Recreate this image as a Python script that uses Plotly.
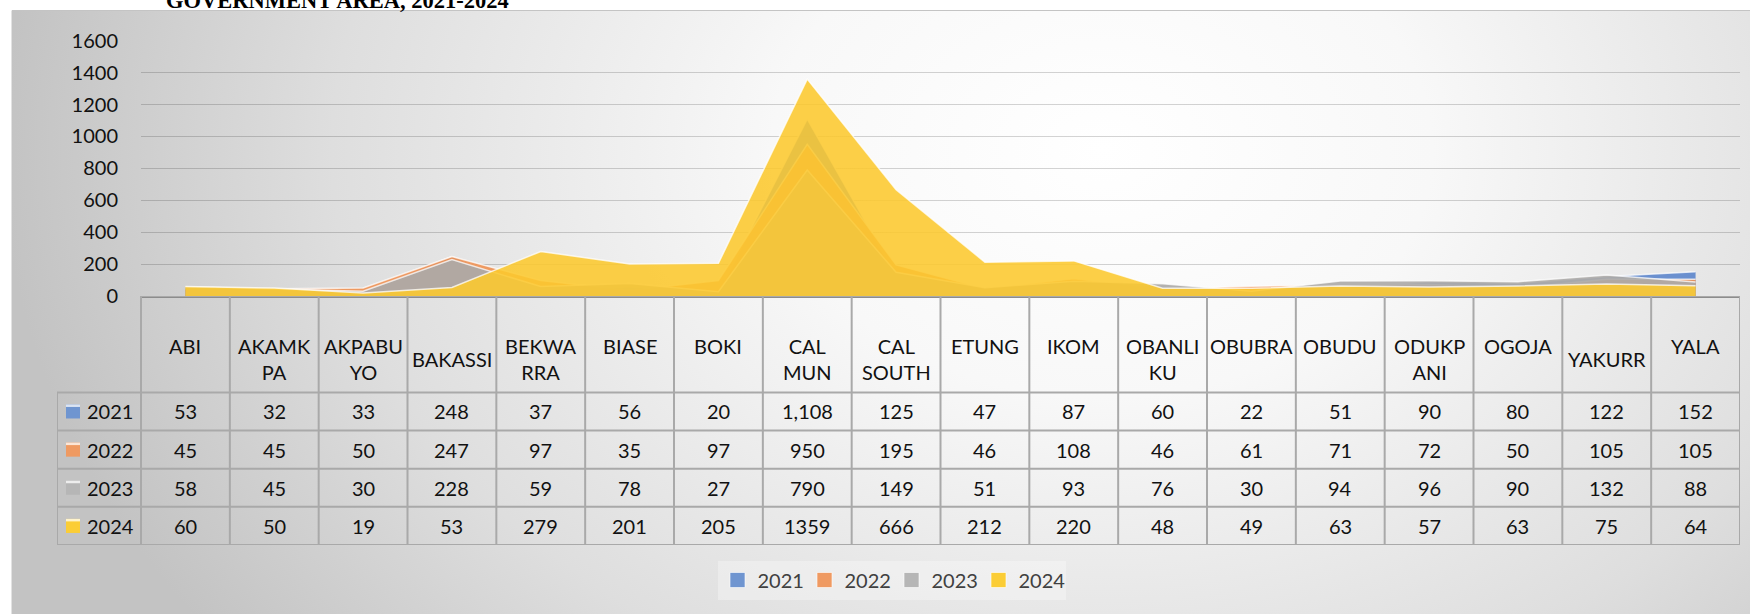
import base64
import plotly.graph_objects as go

# ---------------- data ----------------
categories = ["ABI", "AKAMKPA", "AKPABUYO", "BAKASSI", "BEKWARRA", "BIASE", "BOKI",
              "CAL MUN", "CAL SOUTH", "ETUNG", "IKOM", "OBANLIKU", "OBUBRA", "OBUDU",
              "ODUKPANI", "OGOJA", "YAKURR", "YALA"]
# header labels as wrapped in the data table (trailing blank line kept as in the source)
header_labels = ["ABI<br>\u00a0", "AKAMK<br>PA", "AKPABU<br>YO", "BAKASSI",
                 "BEKWA<br>RRA", "BIASE<br>\u00a0", "BOKI<br>\u00a0", "CAL<br>MUN",
                 "CAL<br>SOUTH", "ETUNG<br>\u00a0", "IKOM<br>\u00a0", "OBANLI<br>KU",
                 "OBUBRA<br>\u00a0", "OBUDU<br>\u00a0", "ODUKP<br>ANI", "OGOJA<br>\u00a0",
                 "YAKURR", "YALA<br>\u00a0"]
years = ["2021", "2022", "2023", "2024"]
v2021 = [53, 32, 33, 248, 37, 56, 20, 1108, 125, 47, 87, 60, 22, 51, 90, 80, 122, 152]
v2022 = [45, 45, 50, 247, 97, 35, 97, 950, 195, 46, 108, 46, 61, 71, 72, 50, 105, 105]
v2023 = [58, 45, 30, 228, 59, 78, 27, 790, 149, 51, 93, 76, 30, 94, 96, 90, 132, 88]
v2024 = [60, 50, 19, 53, 279, 201, 205, 1359, 666, 212, 220, 48, 49, 63, 57, 63, 75, 64]
series = [v2021, v2022, v2023, v2024]
y_ticks = [0, 200, 400, 600, 800, 1000, 1200, 1400, 1600]
title_text = "GOVERNMENT AREA, 2021-2024"

# ---------------- style ----------------
fill_colors = ["rgba(96,136,204,0.92)", "rgba(238,146,86,0.92)",
               "rgba(172,170,168,0.92)", "rgba(252,200,46,0.88)"]
key_colors = ["#6f95d0", "#ef9a62", "#b6b6b6", "#fbcd35"]
FONT = "Lato, 'Open Sans', sans-serif"
TXT = "#111111"
LINE = "#a9a9a9"
W, H = 1750, 614

def px_x(p):
    return p / W

def px_y(p):
    return (H - p) / H

# table geometry (in table-axis units: one category column = 1, one body row = 1)
COL_PX, ROW_PX = 88.83, 38.0
HEADER_ROWS = 96 / ROW_PX
LABEL_COL = 84 / COL_PX
n = len(categories)
tab_x0 = -0.5 - LABEL_COL

# background gradient for the chart frame
svg = """<svg xmlns='http://www.w3.org/2000/svg' width='1738' height='604' viewBox='0 0 1738 604' preserveAspectRatio='none'>
<defs><radialGradient id='g' gradientUnits='userSpaceOnUse' cx='1090' cy='140' r='1100' gradientTransform='translate(1090 140) scale(1 0.75) translate(-1090 -140)'>
<stop offset='0' stop-color='#ffffff'/><stop offset='0.3' stop-color='#f8f8f8'/>
<stop offset='0.7' stop-color='#dedede'/><stop offset='1' stop-color='#c3c3c3'/></radialGradient></defs>
<rect x='0' y='0' width='1738' height='604' fill='url(#g)'/></svg>"""
bg_uri = "data:image/svg+xml;base64," + base64.b64encode(svg.encode()).decode()

fig = go.Figure()

# overlapping area series
for yr, vals, fc in zip(years, series, fill_colors):
    fig.add_trace(go.Scatter(
        x=categories, y=vals, name=yr, mode="lines",
        fill="tozeroy", fillcolor=fc,
        line=dict(color="rgba(255,255,255,0.75)", width=1.5),
        xaxis="x", yaxis="y", showlegend=False, hoverinfo="x+y+name",
    ))

# legend keys (square swatches)
for yr, kc in zip(years, key_colors):
    fig.add_trace(go.Scatter(
        x=[None], y=[None], name=yr, mode="markers",
        marker=dict(symbol="square", size=15, color=kc,
                    line=dict(color="rgba(255,255,255,0.6)", width=1)),
        xaxis="x", yaxis="y", showlegend=True,
    ))

# ---------------- data table (shapes + text on table axes) ----------------
shapes = []
ann = []
tab = dict(xref="x3", yref="y3")
shapes.append(dict(type="line", x0=-0.5, x1=n - 0.5, y0=-HEADER_ROWS, y1=-HEADER_ROWS,
                   line=dict(color=LINE, width=2), **tab))
for r in range(len(years) + 1):
    shapes.append(dict(type="line", x0=tab_x0, x1=n - 0.5, y0=r, y1=r,
                       line=dict(color=LINE, width=2), **tab))
shapes.append(dict(type="line", x0=tab_x0, x1=tab_x0, y0=0, y1=len(years),
                   line=dict(color=LINE, width=2), **tab))
for k in range(n + 1):
    shapes.append(dict(type="line", x0=k - 0.5, x1=k - 0.5, y0=-HEADER_ROWS, y1=len(years),
                       line=dict(color=LINE, width=2), **tab))

tfont = dict(family=FONT, size=20, color=TXT)
for i, lab in enumerate(header_labels):
    ann.append(dict(text=lab, x=i, y=-0.87, xanchor="center", yanchor="middle",
                    showarrow=False, font=tfont, **tab))
key_x0 = tab_x0 + 9 / COL_PX
key_x1 = tab_x0 + 23 / COL_PX
half_key = 7 / ROW_PX
for r, (yr, vals, kc) in enumerate(zip(years, series, key_colors)):
    yc = r + 0.5
    # legend key swatch in the row header
    shapes.append(dict(type="rect", x0=key_x0, x1=key_x1, y0=yc - half_key, y1=yc + half_key,
                       fillcolor=kc, line=dict(width=0), **tab))
    shapes.append(dict(type="rect", x0=key_x0, x1=key_x1, y0=yc - half_key,
                       y1=yc - half_key + 2.5 / ROW_PX,
                       fillcolor="rgba(255,255,255,0.75)", line=dict(width=0), **tab))
    ann.append(dict(text=yr, x=tab_x0 + 28 / COL_PX, y=yc, xanchor="left", yanchor="middle",
                    showarrow=False, font=tfont, **tab))
    for i, v in enumerate(vals):
        txt = str(v) if yr == "2024" else f"{v:,}"
        ann.append(dict(text=txt, x=i, y=yc, xanchor="center", yanchor="middle",
                        showarrow=False, font=tfont, **tab))

# title (partly cut off at the top, as in the source)
ann.append(dict(text=f"<b>{title_text}</b>", xref="paper", yref="paper",
                x=px_x(164), y=1.0, xanchor="left", yanchor="middle", showarrow=False,
                font=dict(family="'Liberation Serif', 'Times New Roman', serif",
                          size=22.5, color="#000000")))

# chart frame outline
shapes.append(dict(type="rect", xref="paper", yref="paper",
                   x0=px_x(12), x1=1.01, y0=-0.01, y1=px_y(10.5),
                   line=dict(color="#c4c4c4", width=1), fillcolor="rgba(0,0,0,0)",
                   layer="below"))

fig.update_layout(
    width=W, height=H,
    margin=dict(l=0, r=0, t=0, b=0, autoexpand=False),
    paper_bgcolor="white",
    plot_bgcolor="rgba(0,0,0,0)",
    font=dict(family=FONT, size=20, color=TXT),
    xaxis=dict(domain=[px_x(141), px_x(1740)], type="category",
               range=[-0.5, n - 0.5],
               showgrid=False, showticklabels=False, zeroline=False,
               showline=True, linecolor="#8c8c8c", linewidth=2, fixedrange=True),
    yaxis=dict(domain=[px_y(296), px_y(40.7)], range=[0, 1600],
               tickvals=y_ticks, showgrid=True, gridcolor="rgba(0,0,0,0.17)", gridwidth=1.3,
               zeroline=False, showline=False, ticks="",
               tickfont=dict(family=FONT, size=20, color=TXT),
               ticklabelstandoff=22, fixedrange=True),
    xaxis3=dict(domain=[px_x(57), px_x(1740)], range=[tab_x0, n - 0.5],
                visible=False, fixedrange=True, anchor="y3"),
    yaxis3=dict(domain=[px_y(545), px_y(296)], range=[len(years), -HEADER_ROWS],
                visible=False, fixedrange=True, anchor="x3"),
    legend=dict(orientation="h", x=px_x(891.5), xanchor="center",
                y=px_y(580), yanchor="middle",
                bgcolor="rgba(255,255,255,0.3)",
                font=dict(family=FONT, size=20, color="#404040"),
                itemwidth=30, entrywidth=42, entrywidthmode="pixels",
                traceorder="normal"),
    images=[dict(source=bg_uri, xref="paper", yref="paper",
                 x=px_x(12), y=px_y(10), sizex=1 - px_x(12), sizey=px_y(10),
                 xanchor="left", yanchor="top", sizing="stretch", layer="below")],
    shapes=shapes,
    annotations=ann,
)

fig.write_html("out.html", config={"displayModeBar": False},
               post_script="document.body.style.margin='0px';document.body.style.overflow='hidden';")
